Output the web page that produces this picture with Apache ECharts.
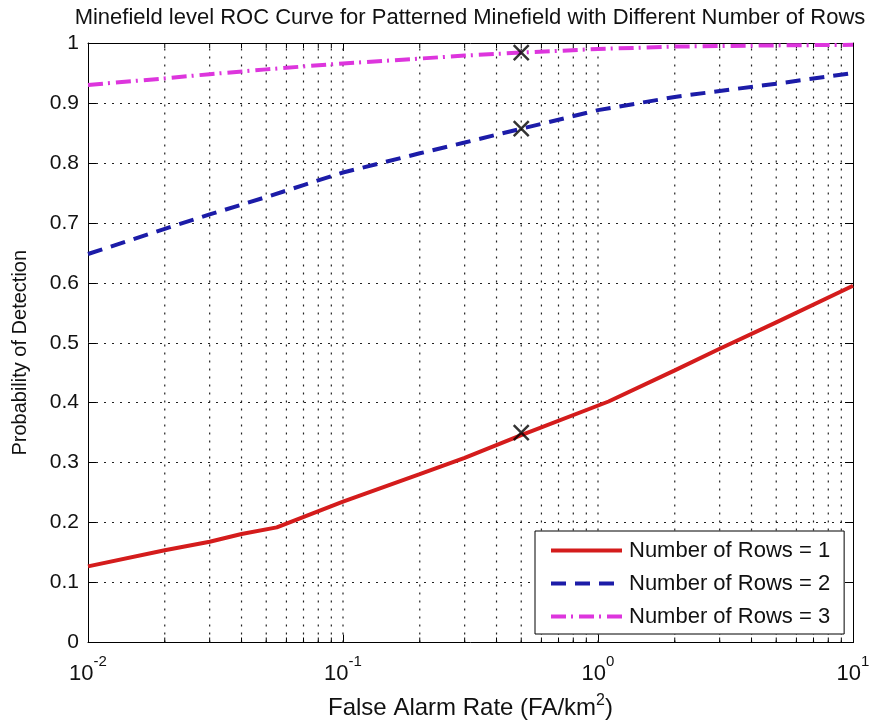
<!DOCTYPE html>
<html>
<head>
<meta charset="utf-8">
<script src="https://cdn.jsdelivr.net/npm/echarts@6/dist/echarts.min.js"></script>
<style>
  html, body { margin: 0; padding: 0; background: #fff; }
  #chart { width: 874px; height: 725px; }
</style>
</head>
<body>
<div id="chart"></div>
<script>
// ---- data ----
const titleText = 'Minefield level ROC Curve for Patterned Minefield with Different Number of Rows';
const seriesNames = ['Number of Rows = 1', 'Number of Rows = 2', 'Number of Rows = 3'];

const rows1X = [0.01, 0.02, 0.03, 0.04, 0.055, 0.1, 0.2, 0.3, 0.5, 1.1, 2, 3, 5, 10];
const rows1Y = [0.127, 0.154, 0.168, 0.181, 0.192, 0.235, 0.281, 0.308, 0.346, 0.402, 0.454, 0.490, 0.534, 0.595];

const rows2X = [0.01, 0.02, 0.03, 0.05, 0.07, 0.1, 0.2, 0.3, 0.5, 1, 2, 3, 5, 10];
const rows2Y = [0.648, 0.690, 0.714, 0.743, 0.763, 0.784, 0.816, 0.834, 0.857, 0.888, 0.910, 0.920, 0.932, 0.950];

const rows3X = [0.01, 0.02, 0.03, 0.05, 0.1, 0.2, 0.3, 0.5, 1, 2, 5, 10];
const rows3Y = [0.930, 0.941, 0.948, 0.956, 0.966, 0.974, 0.979, 0.984, 0.990, 0.994, 0.996, 0.997];

const markerX = [0.5, 0.5, 0.5];
const markerY = [0.35, 0.857, 0.984];

const xMajorExponents = [-2, -1, 0, 1];
const xGridValues = [0.02, 0.03, 0.04, 0.05, 0.06, 0.07, 0.08, 0.09, 0.1,
                     0.2, 0.3, 0.4, 0.5, 0.6, 0.7, 0.8, 0.9, 1,
                     2, 3, 4, 5, 6, 7, 8, 9];
const yMin = 0, yMax = 1, yStep = 0.1;

// ---- chart ----
const FONT = "'Liberation Sans', Arial, sans-serif";
const zip = (xs, ys) => xs.map((x, i) => [x, ys[i]]);
const dotStyle = { color: '#222', width: 1.2, type: [2, 6] };
const xMin = Math.pow(10, xMajorExponents[0]);
const xMax = Math.pow(10, xMajorExponents[xMajorExponents.length - 1]);

const chart = echarts.init(document.getElementById('chart'), null, { renderer: 'canvas' });

function supLabel(v) {
  const e = Math.round(Math.log10(v));
  return '{b|10}{e|' + e + '}';
}

const option = {
  backgroundColor: '#fff',
  animation: false,
  title: {
    text: titleText,
    left: 465, textAlign: 'center', top: 2,
    textStyle: { fontFamily: FONT, fontSize: 22, fontWeight: 'normal', color: '#111' }
  },
  grid: { left: 88, right: 21, top: 43, bottom: 82, containLabel: false },
  legend: {
    data: seriesNames,
    orient: 'vertical',
    left: 535, top: 531,
    padding: [8, 14, 6, 14],
    itemWidth: 71, itemHeight: 14, itemGap: 10,
    backgroundColor: '#fff', borderColor: '#000', borderWidth: 1, borderRadius: 0,
    itemStyle: { opacity: 0 },
    lineStyle: { width: 4 },
    textStyle: { fontFamily: FONT, fontSize: 22, lineHeight: 23, color: '#111', padding: [0, 0, 0, 2] },
    z: 10
  },
  xAxis: [
    {
      type: 'log', logBase: 10, min: xMin, max: xMax,
      name: '{n|False Alarm Rate (FA/km}{s|2}{n|)}',
      nameLocation: 'middle', nameGap: 50,
      nameTextStyle: {
        rich: {
          n: { fontFamily: FONT, fontSize: 24, color: '#111' },
          s: { fontFamily: FONT, fontSize: 16, color: '#111', padding: [0, 0, 15, 0] }
        }
      },
      axisLine: { show: true, onZero: false, lineStyle: { color: '#000', width: 1 } },
      axisTick: { show: true, inside: true, length: 8, lineStyle: { color: '#000' } },
      splitLine: { show: false },
      axisLabel: {
        margin: 10,
        formatter: supLabel,
        rich: {
          b: { fontFamily: FONT, fontSize: 22, color: '#111', padding: [10, 0, 0, 0] },
          e: { fontFamily: FONT, fontSize: 15, color: '#111', padding: [0, 0, 14, 0] }
        }
      }
    },
    {
      type: 'log', logBase: 10, min: xMin, max: xMax, position: 'top',
      axisLine: { show: true, onZero: false, lineStyle: { color: '#000', width: 1 } },
      axisTick: { show: true, inside: true, length: 8, lineStyle: { color: '#000' } },
      axisLabel: { show: false }, splitLine: { show: false }
    }
  ],
  yAxis: [
    {
      type: 'value', min: yMin, max: yMax, interval: yStep,
      name: 'Probability of Detection', nameLocation: 'middle', nameGap: 58, nameRotate: 90,
      nameTextStyle: { fontFamily: FONT, fontSize: 20, color: '#111', padding: [0, 20, 0, 0] },
      axisLine: { show: true, onZero: false, lineStyle: { color: '#000', width: 1 } },
      axisTick: { show: true, inside: true, length: 8, lineStyle: { color: '#000' } },
      splitLine: { show: true, lineStyle: dotStyle },
      axisLabel: { margin: 9, fontFamily: FONT, fontSize: 21, color: '#111' }
    },
    {
      type: 'value', min: yMin, max: yMax, interval: yStep, position: 'right',
      axisLine: { show: true, onZero: false, lineStyle: { color: '#000', width: 1 } },
      axisTick: { show: true, inside: true, length: 8, lineStyle: { color: '#000' } },
      axisLabel: { show: false }, splitLine: { show: false }
    }
  ],
  series: [
    {
      type: 'custom', name: 'xgrid', silent: true, z: 1, clip: false,
      data: xGridValues.map(v => [v, 0]),
      renderItem: function (params, api) {
        const x = api.value(0);
        const p0 = api.coord([x, yMin]);
        const p1 = api.coord([x, yMax]);
        const isMajor = Math.abs(Math.log10(x) - Math.round(Math.log10(x))) < 1e-9;
        const children = [{
          type: 'line',
          shape: { x1: p0[0], y1: p0[1], x2: p1[0], y2: p1[1] },
          style: { stroke: dotStyle.color, lineWidth: dotStyle.width, lineDash: dotStyle.type }
        }];
        if (!isMajor) {
          children.push({ type: 'line', shape: { x1: p0[0], y1: p0[1], x2: p0[0], y2: p0[1] - 5 }, style: { stroke: '#000', lineWidth: 1 } });
          children.push({ type: 'line', shape: { x1: p1[0], y1: p1[1], x2: p1[0], y2: p1[1] + 5 }, style: { stroke: '#000', lineWidth: 1 } });
        }
        return { type: 'group', children: children };
      }
    },
    {
      name: seriesNames[0], type: 'line', data: zip(rows1X, rows1Y),
      symbol: 'none', z: 3,
      itemStyle: { color: '#d41c1c' },
      lineStyle: { color: '#d41c1c', width: 4, type: 'solid' }
    },
    {
      name: seriesNames[1], type: 'line', data: zip(rows2X, rows2Y),
      symbol: 'none', z: 3,
      itemStyle: { color: '#1c1ca8' },
      lineStyle: { color: '#1c1ca8', width: 4, type: [15, 9] }
    },
    {
      name: seriesNames[2], type: 'line', data: zip(rows3X, rows3Y),
      symbol: 'none', z: 3,
      itemStyle: { color: '#dd35dd' },
      lineStyle: { color: '#dd35dd', width: 4, type: [15, 5, 2, 6] }
    },
    {
      name: 'markers', type: 'scatter', data: zip(markerX, markerY), z: 5,
      symbol: 'path://M0,0L10,10M0,10L10,0', symbolSize: 15,
      itemStyle: { color: 'transparent', borderColor: '#000', borderWidth: 2.5 }
    }
  ]
};
chart.setOption(option);
</script>
</body>
</html>
